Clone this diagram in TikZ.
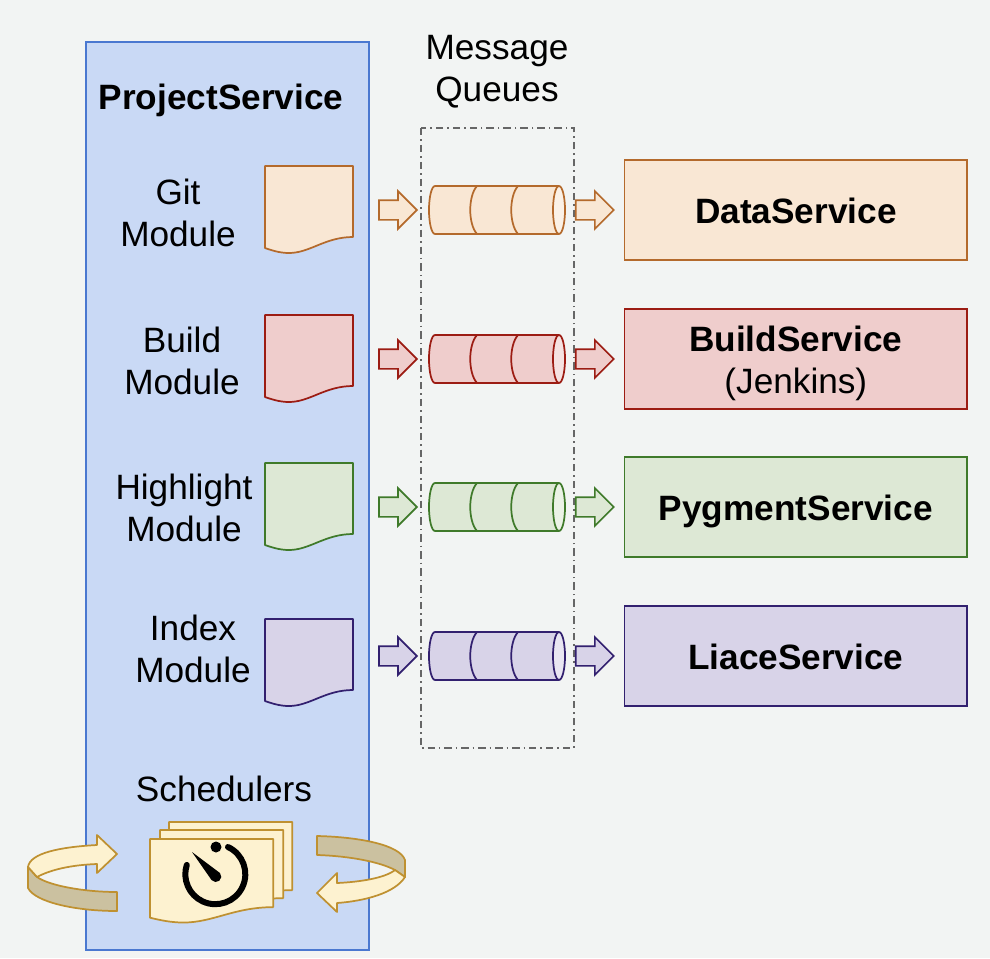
\documentclass[tikz,border=0pt]{standalone}
\usepackage{fontspec}
\setmainfont{Liberation Sans}
\usetikzlibrary{shapes.geometric,shapes.arrows,positioning,calc}

\definecolor{pagebg}{HTML}{F2F4F3}
\definecolor{projfill}{HTML}{C9D9F5}
\definecolor{projline}{HTML}{4A78D0}
\definecolor{gitfill}{HTML}{F9E7D4}
\definecolor{gitline}{HTML}{B46A2C}
\definecolor{gitcap}{HTML}{FBF1E6}
\definecolor{buildfill}{HTML}{EFCDCC}
\definecolor{buildline}{HTML}{9C1C13}
\definecolor{buildcap}{HTML}{F5E2E1}
\definecolor{hlfill}{HTML}{DDE8D5}
\definecolor{hlline}{HTML}{3F7A2A}
\definecolor{hlcap}{HTML}{EBF2E6}
\definecolor{idxfill}{HTML}{D8D3E8}
\definecolor{idxline}{HTML}{32206F}
\definecolor{idxcap}{HTML}{E9E6F2}
\definecolor{schedfill}{HTML}{FDF2D0}
\definecolor{schedline}{HTML}{BF9131}
\definecolor{schedband}{HTML}{CBC1A0}

\tikzset{
	pics/docsheet/.style 2 args={code={
		\draw[#1,fill=#2,line width=1.3pt,line join=round] (0,0) -- (88,0) -- (88,71)
			.. controls (60,71) and (45,87) .. (24,87)
			.. controls (14,87) and (6,84) .. (0,82) -- cycle;
	}},
	queue/.style n args={3}{cylinder,anchor=shape center,draw=#1,line width=1.3pt,cylinder uses custom fill,cylinder body fill=#2,cylinder end fill=#3,
		shape aspect=.25,minimum height=102pt,minimum width=36pt,inner xsep=0pt,inner ysep=18pt},
	blockarrow/.style 2 args={single arrow,draw=#1,fill=#2,line width=1.3pt,minimum height=28.5pt,minimum width=27pt,
		single arrow head extend=6.75pt,inner xsep=0pt,inner ysep=6.75pt},
	svcbox/.style 2 args={draw=#1,fill=#2,line width=1.3pt,minimum width=257pt,minimum height=75.5pt,inner sep=0pt,align=center},
	lbl/.style={align=center,inner sep=0pt},
	oneline/.style={text height=20.5pt,text depth=0pt},
	turnarrow/.style={schedline,line width=1.3pt,line join=round}
}

\newcommand{\queuebars}[2]{
	\draw[#2,line width=1.3pt] ($(#1.shape center)+(-20,-24)$) .. controls +(-9,10) and +(-9,-10) .. +(0,48);
	\draw[#2,line width=1.3pt] ($(#1.shape center)+(21,-24)$) .. controls +(-9,10) and +(-9,-10) .. +(0,48);
}

\begin{document}
\begin{tikzpicture}[x=.75pt,y=-.75pt,font=\fontsize{26.4}{31.5}\selectfont,node distance=6.5pt]
	\fill[pagebg] (0,0) rectangle (990,958);
	\draw[projline,fill=projfill,line width=1.5pt] (86,42) rectangle (369,950);
	\draw[black!60,line width=1.1pt,dash pattern=on 5.5pt off 3pt on 1.2pt off 3pt] (421,128) rectangle (574,748);
	\node[lbl,oneline] (title) at (221,96) {\textbf{ProjectService}};
	\node[lbl] (mq) at (497,72) {Message\\Queues};

	\node[lbl] (gitlbl) at (178,213) {Git\\Module};
	\pic (gitdoc) at (265,166) {docsheet={gitline}{gitfill}};
	\node[queue={gitline}{gitfill}{gitcap}] (gitq) at (497,210) {};
	\queuebars{gitq}{gitline}
	\node[blockarrow={gitline}{gitfill},left=7.5pt of gitq] (gitin) {};
	\node[blockarrow={gitline}{gitfill},right=6.75pt of gitq] (gitout) {};
	\node[svcbox={gitline}{gitfill},oneline,right=of gitout] (data) {\textbf{DataService}};

	\node[lbl] (buildlbl) at (182,361) {Build\\Module};
	\pic (builddoc) at (265,315) {docsheet={buildline}{buildfill}};
	\node[queue={buildline}{buildfill}{buildcap}] (buildq) at (497,359) {};
	\queuebars{buildq}{buildline}
	\node[blockarrow={buildline}{buildfill},left=7.5pt of buildq] (buildin) {};
	\node[blockarrow={buildline}{buildfill},right=6.75pt of buildq] (buildout) {};
	\node[svcbox={buildline}{buildfill},right=of buildout] (build) {\rule{0pt}{25.3pt}\textbf{BuildService}\\(Jenkins)};

	\node[lbl] (hllbl) at (184,508) {Highlight\\Module};
	\pic (hldoc) at (265,463) {docsheet={hlline}{hlfill}};
	\node[queue={hlline}{hlfill}{hlcap}] (hlq) at (497,507) {};
	\queuebars{hlq}{hlline}
	\node[blockarrow={hlline}{hlfill},left=7.5pt of hlq] (hlin) {};
	\node[blockarrow={hlline}{hlfill},right=6.75pt of hlq] (hlout) {};
	\node[svcbox={hlline}{hlfill},oneline,right=of hlout] (pygment) {\textbf{PygmentService}};

	\node[lbl] (idxlbl) at (193,649) {Index\\Module};
	\pic (idxdoc) at (265,619) {docsheet={idxline}{idxfill}};
	\node[queue={idxline}{idxfill}{idxcap}] (idxq) at (497,656) {};
	\queuebars{idxq}{idxline}
	\node[blockarrow={idxline}{idxfill},left=7.5pt of idxq] (idxin) {};
	\node[blockarrow={idxline}{idxfill},right=6.75pt of idxq] (idxout) {};
	\node[svcbox={idxline}{idxfill},oneline,right=of idxout] (liace) {\textbf{LiaceService}};

	\node[lbl] (schedlbl) at (224,789) {Schedulers};
	\pic[xscale=1.4,yscale=.96] (schedc) at (169,822) {docsheet={schedline}{schedfill}};
	\pic[xscale=1.4,yscale=.96] (schedb) at (160,830) {docsheet={schedline}{schedfill}};
	\pic[xscale=1.4,yscale=.96] (scheda) at (150,839) {docsheet={schedline}{schedfill}};

	% clock
	\draw[line width=4.5pt,line cap=round] (228,847) arc[start angle=-65,end angle=198,radius=30];
	\fill (216,847) circle (5.5);
	\fill (192,852) -- (220,873) arc[start angle=-40,end angle=140,radius=5.5] -- cycle;

	% turn arrows
	\draw[turnarrow,fill=schedband] (28,867) -- (28,888)
		.. controls (35,902) and (75,911) .. (117,911) -- (117,892)
		.. controls (85,892) and (50,886) .. (37,877) -- cycle;
	\draw[turnarrow,fill=schedfill] (37,877)
		.. controls (50,870) and (70,865) .. (97,864) -- (97,873) -- (117,854) -- (97,835) -- (97,845)
		.. controls (60,847) and (30,853) .. (28,867) -- cycle;
	\draw[turnarrow,fill=schedband] (317,836)
		.. controls (360,837) and (400,845) .. (405,860) -- (405,877) -- (395,870)
		.. controls (380,862) and (350,856) .. (317,855) -- cycle;
	\draw[turnarrow,fill=schedfill] (405,877)
		.. controls (395,893) and (365,901) .. (337,903) -- (337,912) -- (317,893) -- (337,873) -- (337,883)
		.. controls (360,882) and (385,878) .. (395,870) -- cycle;
\end{tikzpicture}
\end{document}
